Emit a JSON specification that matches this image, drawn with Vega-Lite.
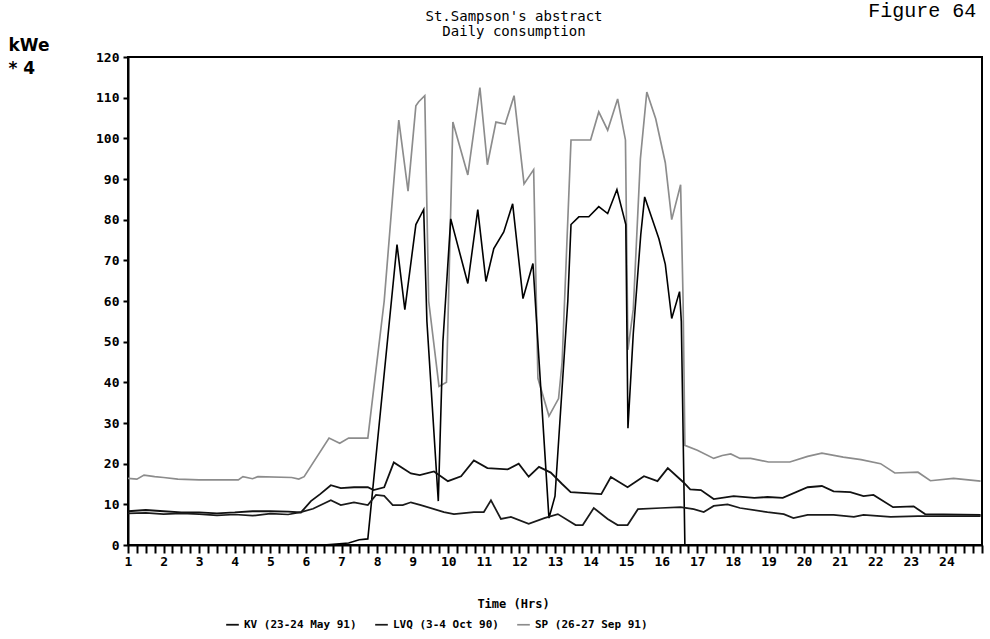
{
  "$schema": "https://vega.github.io/schema/vega-lite/v6.json",
  "width": 854,
  "height": 488,
  "autosize": {"type": "none"},
  "padding": {"left": 128, "top": 57, "right": 8, "bottom": 94},
  "background": "white",
  "config": {
    "view": {"stroke": "black", "strokeWidth": 2},
    "axis": {"domainColor": "black", "domainWidth": 2, "tickColor": "black", "tickWidth": 2, "labelColor": "black", "titleColor": "black", "grid": false},
    "title": {"color": "black"}
  },
  "title": {
    "text": ["St.Sampson's abstract", "Daily consumption"],
    "anchor": "middle",
    "frame": "group",
    "dx": -41,
    "offset": -38,
    "font": "DejaVu Sans Mono",
    "fontSize": 14,
    "fontWeight": "normal",
    "lineHeight": 15
  },
  "resolve": {"axis": {"x": "independent", "y": "independent"}},
  "data": {
    "values": [
      {"series": "SP (26-27 Sep 91)", "h": 1, "v": 16.4},
      {"series": "SP (26-27 Sep 91)", "h": 1.25, "v": 16.2},
      {"series": "SP (26-27 Sep 91)", "h": 1.45, "v": 17.2},
      {"series": "SP (26-27 Sep 91)", "h": 1.75, "v": 16.8},
      {"series": "SP (26-27 Sep 91)", "h": 2, "v": 16.6},
      {"series": "SP (26-27 Sep 91)", "h": 2.4, "v": 16.2},
      {"series": "SP (26-27 Sep 91)", "h": 3, "v": 16},
      {"series": "SP (26-27 Sep 91)", "h": 4.1, "v": 16},
      {"series": "SP (26-27 Sep 91)", "h": 4.23, "v": 16.8},
      {"series": "SP (26-27 Sep 91)", "h": 4.5, "v": 16.3},
      {"series": "SP (26-27 Sep 91)", "h": 4.65, "v": 16.8},
      {"series": "SP (26-27 Sep 91)", "h": 5.6, "v": 16.6},
      {"series": "SP (26-27 Sep 91)", "h": 5.8, "v": 16.2},
      {"series": "SP (26-27 Sep 91)", "h": 5.95, "v": 16.8},
      {"series": "SP (26-27 Sep 91)", "h": 6.65, "v": 26.3},
      {"series": "SP (26-27 Sep 91)", "h": 6.95, "v": 25},
      {"series": "SP (26-27 Sep 91)", "h": 7.2, "v": 26.3},
      {"series": "SP (26-27 Sep 91)", "h": 7.74, "v": 26.3},
      {"series": "SP (26-27 Sep 91)", "h": 8.2, "v": 60},
      {"series": "SP (26-27 Sep 91)", "h": 8.61, "v": 104.5},
      {"series": "SP (26-27 Sep 91)", "h": 8.87, "v": 87},
      {"series": "SP (26-27 Sep 91)", "h": 9.09, "v": 108},
      {"series": "SP (26-27 Sep 91)", "h": 9.17, "v": 109},
      {"series": "SP (26-27 Sep 91)", "h": 9.34, "v": 110.5},
      {"series": "SP (26-27 Sep 91)", "h": 9.45, "v": 60},
      {"series": "SP (26-27 Sep 91)", "h": 9.74, "v": 39},
      {"series": "SP (26-27 Sep 91)", "h": 9.95, "v": 40},
      {"series": "SP (26-27 Sep 91)", "h": 10.13, "v": 104},
      {"series": "SP (26-27 Sep 91)", "h": 10.55, "v": 91},
      {"series": "SP (26-27 Sep 91)", "h": 10.89, "v": 112.5},
      {"series": "SP (26-27 Sep 91)", "h": 11.1, "v": 93.5},
      {"series": "SP (26-27 Sep 91)", "h": 11.34, "v": 104},
      {"series": "SP (26-27 Sep 91)", "h": 11.6, "v": 103.5},
      {"series": "SP (26-27 Sep 91)", "h": 11.85, "v": 110.5},
      {"series": "SP (26-27 Sep 91)", "h": 12.13, "v": 88.8},
      {"series": "SP (26-27 Sep 91)", "h": 12.4, "v": 92.3},
      {"series": "SP (26-27 Sep 91)", "h": 12.52, "v": 41},
      {"series": "SP (26-27 Sep 91)", "h": 12.83, "v": 31.7},
      {"series": "SP (26-27 Sep 91)", "h": 13.1, "v": 36},
      {"series": "SP (26-27 Sep 91)", "h": 13.2, "v": 45},
      {"series": "SP (26-27 Sep 91)", "h": 13.45, "v": 99.6},
      {"series": "SP (26-27 Sep 91)", "h": 14, "v": 99.6},
      {"series": "SP (26-27 Sep 91)", "h": 14.23, "v": 106.5},
      {"series": "SP (26-27 Sep 91)", "h": 14.48, "v": 102},
      {"series": "SP (26-27 Sep 91)", "h": 14.76, "v": 109.7},
      {"series": "SP (26-27 Sep 91)", "h": 14.98, "v": 99.6},
      {"series": "SP (26-27 Sep 91)", "h": 15.05, "v": 48},
      {"series": "SP (26-27 Sep 91)", "h": 15.2, "v": 58},
      {"series": "SP (26-27 Sep 91)", "h": 15.4, "v": 95},
      {"series": "SP (26-27 Sep 91)", "h": 15.58, "v": 111.4},
      {"series": "SP (26-27 Sep 91)", "h": 15.83, "v": 104.8},
      {"series": "SP (26-27 Sep 91)", "h": 16.1, "v": 94},
      {"series": "SP (26-27 Sep 91)", "h": 16.28, "v": 80},
      {"series": "SP (26-27 Sep 91)", "h": 16.53, "v": 88.6},
      {"series": "SP (26-27 Sep 91)", "h": 16.6, "v": 60},
      {"series": "SP (26-27 Sep 91)", "h": 16.65, "v": 24.5},
      {"series": "SP (26-27 Sep 91)", "h": 17, "v": 23.3},
      {"series": "SP (26-27 Sep 91)", "h": 17.46, "v": 21.3},
      {"series": "SP (26-27 Sep 91)", "h": 17.7, "v": 22},
      {"series": "SP (26-27 Sep 91)", "h": 17.94, "v": 22.4},
      {"series": "SP (26-27 Sep 91)", "h": 18.2, "v": 21.3},
      {"series": "SP (26-27 Sep 91)", "h": 18.5, "v": 21.3},
      {"series": "SP (26-27 Sep 91)", "h": 19, "v": 20.4},
      {"series": "SP (26-27 Sep 91)", "h": 19.6, "v": 20.4},
      {"series": "SP (26-27 Sep 91)", "h": 20.1, "v": 21.8},
      {"series": "SP (26-27 Sep 91)", "h": 20.5, "v": 22.6},
      {"series": "SP (26-27 Sep 91)", "h": 21.1, "v": 21.6},
      {"series": "SP (26-27 Sep 91)", "h": 21.6, "v": 21},
      {"series": "SP (26-27 Sep 91)", "h": 22.15, "v": 20},
      {"series": "SP (26-27 Sep 91)", "h": 22.55, "v": 17.7},
      {"series": "SP (26-27 Sep 91)", "h": 23.2, "v": 17.9},
      {"series": "SP (26-27 Sep 91)", "h": 23.55, "v": 15.8},
      {"series": "SP (26-27 Sep 91)", "h": 24.2, "v": 16.4},
      {"series": "SP (26-27 Sep 91)", "h": 24.96, "v": 15.7},

      {"series": "Space heating", "h": 1, "v": 0},
      {"series": "Space heating", "h": 6.5, "v": 0},
      {"series": "Space heating", "h": 7.2, "v": 0.5},
      {"series": "Space heating", "h": 7.5, "v": 1.3},
      {"series": "Space heating", "h": 7.74, "v": 1.5},
      {"series": "Space heating", "h": 8.56, "v": 73.9},
      {"series": "Space heating", "h": 8.78, "v": 57.9},
      {"series": "Space heating", "h": 9.09, "v": 78.8},
      {"series": "Space heating", "h": 9.31, "v": 82.5},
      {"series": "Space heating", "h": 9.4, "v": 55},
      {"series": "Space heating", "h": 9.72, "v": 10.8},
      {"series": "Space heating", "h": 9.85, "v": 50},
      {"series": "Space heating", "h": 10.07, "v": 80.2},
      {"series": "Space heating", "h": 10.55, "v": 64.3},
      {"series": "Space heating", "h": 10.83, "v": 82.5},
      {"series": "Space heating", "h": 11.06, "v": 64.8},
      {"series": "Space heating", "h": 11.28, "v": 72.9},
      {"series": "Space heating", "h": 11.56, "v": 77},
      {"series": "Space heating", "h": 11.81, "v": 83.9},
      {"series": "Space heating", "h": 12.1, "v": 60.6},
      {"series": "Space heating", "h": 12.38, "v": 69.2},
      {"series": "Space heating", "h": 12.83, "v": 6.6},
      {"series": "Space heating", "h": 13, "v": 12},
      {"series": "Space heating", "h": 13.36, "v": 60},
      {"series": "Space heating", "h": 13.45, "v": 78.8},
      {"series": "Space heating", "h": 13.67, "v": 80.7},
      {"series": "Space heating", "h": 13.95, "v": 80.7},
      {"series": "Space heating", "h": 14.23, "v": 83.2},
      {"series": "Space heating", "h": 14.48, "v": 81.5},
      {"series": "Space heating", "h": 14.74, "v": 87.4},
      {"series": "Space heating", "h": 14.99, "v": 78.8},
      {"series": "Space heating", "h": 15.05, "v": 28.7},
      {"series": "Space heating", "h": 15.2, "v": 52},
      {"series": "Space heating", "h": 15.41, "v": 76.3},
      {"series": "Space heating", "h": 15.52, "v": 85.6},
      {"series": "Space heating", "h": 15.92, "v": 75.3},
      {"series": "Space heating", "h": 16.1, "v": 69},
      {"series": "Space heating", "h": 16.28, "v": 55.7},
      {"series": "Space heating", "h": 16.5, "v": 62.3},
      {"series": "Space heating", "h": 16.55, "v": 55},
      {"series": "Space heating", "h": 16.65, "v": 0},
      {"series": "Space heating", "h": 25, "v": 0},

      {"series": "KV (23-24 May 91)", "h": 1, "v": 8.3},
      {"series": "KV (23-24 May 91)", "h": 1.5, "v": 8.6},
      {"series": "KV (23-24 May 91)", "h": 2, "v": 8.3},
      {"series": "KV (23-24 May 91)", "h": 2.5, "v": 8},
      {"series": "KV (23-24 May 91)", "h": 3, "v": 8},
      {"series": "KV (23-24 May 91)", "h": 3.5, "v": 7.8},
      {"series": "KV (23-24 May 91)", "h": 4, "v": 8},
      {"series": "KV (23-24 May 91)", "h": 4.5, "v": 8.3},
      {"series": "KV (23-24 May 91)", "h": 5, "v": 8.3},
      {"series": "KV (23-24 May 91)", "h": 5.5, "v": 8.2},
      {"series": "KV (23-24 May 91)", "h": 5.86, "v": 8},
      {"series": "KV (23-24 May 91)", "h": 6.14, "v": 10.8},
      {"series": "KV (23-24 May 91)", "h": 6.4, "v": 12.5},
      {"series": "KV (23-24 May 91)", "h": 6.7, "v": 14.7},
      {"series": "KV (23-24 May 91)", "h": 6.98, "v": 14},
      {"series": "KV (23-24 May 91)", "h": 7.35, "v": 14.2},
      {"series": "KV (23-24 May 91)", "h": 7.74, "v": 14.2},
      {"series": "KV (23-24 May 91)", "h": 7.9, "v": 13.5},
      {"series": "KV (23-24 May 91)", "h": 8.2, "v": 14.2},
      {"series": "KV (23-24 May 91)", "h": 8.47, "v": 20.3},
      {"series": "KV (23-24 May 91)", "h": 8.95, "v": 17.6},
      {"series": "KV (23-24 May 91)", "h": 9.2, "v": 17.2},
      {"series": "KV (23-24 May 91)", "h": 9.6, "v": 18.1},
      {"series": "KV (23-24 May 91)", "h": 9.99, "v": 15.7},
      {"series": "KV (23-24 May 91)", "h": 10.36, "v": 16.9},
      {"series": "KV (23-24 May 91)", "h": 10.72, "v": 20.8},
      {"series": "KV (23-24 May 91)", "h": 11.1, "v": 18.9},
      {"series": "KV (23-24 May 91)", "h": 11.67, "v": 18.6},
      {"series": "KV (23-24 May 91)", "h": 11.98, "v": 20},
      {"series": "KV (23-24 May 91)", "h": 12.26, "v": 16.8},
      {"series": "KV (23-24 May 91)", "h": 12.55, "v": 19.2},
      {"series": "KV (23-24 May 91)", "h": 12.88, "v": 17.8},
      {"series": "KV (23-24 May 91)", "h": 13.2, "v": 15},
      {"series": "KV (23-24 May 91)", "h": 13.44, "v": 13},
      {"series": "KV (23-24 May 91)", "h": 14.3, "v": 12.5},
      {"series": "KV (23-24 May 91)", "h": 14.57, "v": 16.7},
      {"series": "KV (23-24 May 91)", "h": 15.04, "v": 14.2},
      {"series": "KV (23-24 May 91)", "h": 15.5, "v": 16.9},
      {"series": "KV (23-24 May 91)", "h": 15.88, "v": 15.7},
      {"series": "KV (23-24 May 91)", "h": 16.17, "v": 18.9},
      {"series": "KV (23-24 May 91)", "h": 16.6, "v": 15.5},
      {"series": "KV (23-24 May 91)", "h": 16.8, "v": 13.7},
      {"series": "KV (23-24 May 91)", "h": 17.1, "v": 13.5},
      {"series": "KV (23-24 May 91)", "h": 17.46, "v": 11.3},
      {"series": "KV (23-24 May 91)", "h": 18.02, "v": 12},
      {"series": "KV (23-24 May 91)", "h": 18.6, "v": 11.6},
      {"series": "KV (23-24 May 91)", "h": 18.97, "v": 11.8},
      {"series": "KV (23-24 May 91)", "h": 19.4, "v": 11.6},
      {"series": "KV (23-24 May 91)", "h": 20.1, "v": 14.2},
      {"series": "KV (23-24 May 91)", "h": 20.5, "v": 14.5},
      {"series": "KV (23-24 May 91)", "h": 20.83, "v": 13.2},
      {"series": "KV (23-24 May 91)", "h": 21.3, "v": 13},
      {"series": "KV (23-24 May 91)", "h": 21.67, "v": 12},
      {"series": "KV (23-24 May 91)", "h": 21.95, "v": 12.3},
      {"series": "KV (23-24 May 91)", "h": 22.5, "v": 9.3},
      {"series": "KV (23-24 May 91)", "h": 23.08, "v": 9.5},
      {"series": "KV (23-24 May 91)", "h": 23.4, "v": 7.6},
      {"series": "KV (23-24 May 91)", "h": 24.96, "v": 7.4},

      {"series": "LVQ (3-4 Oct 90)", "h": 1, "v": 7.8},
      {"series": "LVQ (3-4 Oct 90)", "h": 1.5, "v": 7.9},
      {"series": "LVQ (3-4 Oct 90)", "h": 2, "v": 7.6},
      {"series": "LVQ (3-4 Oct 90)", "h": 2.5, "v": 7.8},
      {"series": "LVQ (3-4 Oct 90)", "h": 3, "v": 7.6},
      {"series": "LVQ (3-4 Oct 90)", "h": 3.5, "v": 7.3},
      {"series": "LVQ (3-4 Oct 90)", "h": 4, "v": 7.5},
      {"series": "LVQ (3-4 Oct 90)", "h": 4.5, "v": 7.2},
      {"series": "LVQ (3-4 Oct 90)", "h": 5, "v": 7.7},
      {"series": "LVQ (3-4 Oct 90)", "h": 5.5, "v": 7.5},
      {"series": "LVQ (3-4 Oct 90)", "h": 5.86, "v": 8.1},
      {"series": "LVQ (3-4 Oct 90)", "h": 6.2, "v": 8.9},
      {"series": "LVQ (3-4 Oct 90)", "h": 6.7, "v": 11},
      {"series": "LVQ (3-4 Oct 90)", "h": 6.98, "v": 9.8},
      {"series": "LVQ (3-4 Oct 90)", "h": 7.35, "v": 10.5},
      {"series": "LVQ (3-4 Oct 90)", "h": 7.74, "v": 9.8},
      {"series": "LVQ (3-4 Oct 90)", "h": 7.97, "v": 12.3},
      {"series": "LVQ (3-4 Oct 90)", "h": 8.2, "v": 12.1},
      {"series": "LVQ (3-4 Oct 90)", "h": 8.44, "v": 9.8},
      {"series": "LVQ (3-4 Oct 90)", "h": 8.72, "v": 9.8},
      {"series": "LVQ (3-4 Oct 90)", "h": 8.95, "v": 10.5},
      {"series": "LVQ (3-4 Oct 90)", "h": 9.23, "v": 9.8},
      {"series": "LVQ (3-4 Oct 90)", "h": 9.88, "v": 8.1},
      {"series": "LVQ (3-4 Oct 90)", "h": 10.16, "v": 7.6},
      {"series": "LVQ (3-4 Oct 90)", "h": 10.72, "v": 8.1},
      {"series": "LVQ (3-4 Oct 90)", "h": 11, "v": 8.1},
      {"series": "LVQ (3-4 Oct 90)", "h": 11.2, "v": 11},
      {"series": "LVQ (3-4 Oct 90)", "h": 11.48, "v": 6.4},
      {"series": "LVQ (3-4 Oct 90)", "h": 11.76, "v": 6.9},
      {"series": "LVQ (3-4 Oct 90)", "h": 12.26, "v": 5.2},
      {"series": "LVQ (3-4 Oct 90)", "h": 12.7, "v": 6.6},
      {"series": "LVQ (3-4 Oct 90)", "h": 13.08, "v": 7.6},
      {"series": "LVQ (3-4 Oct 90)", "h": 13.58, "v": 4.9},
      {"series": "LVQ (3-4 Oct 90)", "h": 13.78, "v": 4.9},
      {"series": "LVQ (3-4 Oct 90)", "h": 14.09, "v": 9.1},
      {"series": "LVQ (3-4 Oct 90)", "h": 14.48, "v": 6.4},
      {"series": "LVQ (3-4 Oct 90)", "h": 14.76, "v": 4.9},
      {"series": "LVQ (3-4 Oct 90)", "h": 15.04, "v": 4.9},
      {"series": "LVQ (3-4 Oct 90)", "h": 15.33, "v": 8.8},
      {"series": "LVQ (3-4 Oct 90)", "h": 15.97, "v": 9.1},
      {"series": "LVQ (3-4 Oct 90)", "h": 16.53, "v": 9.3},
      {"series": "LVQ (3-4 Oct 90)", "h": 16.9, "v": 8.8},
      {"series": "LVQ (3-4 Oct 90)", "h": 17.18, "v": 8.1},
      {"series": "LVQ (3-4 Oct 90)", "h": 17.46, "v": 9.6},
      {"series": "LVQ (3-4 Oct 90)", "h": 17.85, "v": 10},
      {"series": "LVQ (3-4 Oct 90)", "h": 18.2, "v": 9.1},
      {"series": "LVQ (3-4 Oct 90)", "h": 18.97, "v": 8.1},
      {"series": "LVQ (3-4 Oct 90)", "h": 19.43, "v": 7.6},
      {"series": "LVQ (3-4 Oct 90)", "h": 19.7, "v": 6.6},
      {"series": "LVQ (3-4 Oct 90)", "h": 20.1, "v": 7.4},
      {"series": "LVQ (3-4 Oct 90)", "h": 20.83, "v": 7.4},
      {"series": "LVQ (3-4 Oct 90)", "h": 21.4, "v": 6.9},
      {"series": "LVQ (3-4 Oct 90)", "h": 21.67, "v": 7.4},
      {"series": "LVQ (3-4 Oct 90)", "h": 22.43, "v": 6.9},
      {"series": "LVQ (3-4 Oct 90)", "h": 23.2, "v": 7.1},
      {"series": "LVQ (3-4 Oct 90)", "h": 24.96, "v": 7.1}
    ]
  },
  "layer": [
    {
      "mark": {"type": "line", "interpolate": "linear", "clip": true},
      "encoding": {
        "x": {
          "field": "h",
          "type": "quantitative",
          "scale": {"domain": [1, 25], "nice": false, "zero": false},
          "axis": {
            "values": [1,1.25,1.5,1.75,2,2.25,2.5,2.75,3,3.25,3.5,3.75,4,4.25,4.5,4.75,5,5.25,5.5,5.75,6,6.25,6.5,6.75,7,7.25,7.5,7.75,8,8.25,8.5,8.75,9,9.25,9.5,9.75,10,10.25,10.5,10.75,11,11.25,11.5,11.75,12,12.25,12.5,12.75,13,13.25,13.5,13.75,14,14.25,14.5,14.75,15,15.25,15.5,15.75,16,16.25,16.5,16.75,17,17.25,17.5,17.75,18,18.25,18.5,18.75,19,19.25,19.5,19.75,20,20.25,20.5,20.75,21,21.25,21.5,21.75,22,22.25,22.5,22.75,23,23.25,23.5,23.75,24,24.25,24.5,24.75,25],
            "labelExpr": "(datum.value % 1 == 0 && datum.value <= 24) ? format(datum.value, 'd') : ''",
            "labelOverlap": false,
            "labelFlush": false,
            "labelFont": "DejaVu Sans Mono",
            "labelFontSize": 13,
            "labelFontWeight": "bold",
            "labelPadding": 2,
            "tickSize": 8,
            "title": "Time (Hrs)",
            "titleFont": "DejaVu Sans Mono",
            "titleFontSize": 12,
            "titleFontWeight": "bold",
            "titleX": 385,
            "titleY": 58,
            "titleBaseline": "middle"
          }
        },
        "y": {
          "field": "v",
          "type": "quantitative",
          "scale": {"domain": [0, 120], "nice": false},
          "axis": {
            "values": [0,10,20,30,40,50,60,70,80,90,100,110,120],
            "labelFont": "DejaVu Sans Mono",
            "labelFontSize": 13,
            "labelFontWeight": "bold",
            "labelPadding": 4,
            "tickSize": 5,
            "title": ["kWe", "* 4"],
            "titleAngle": 0,
            "titleAlign": "left",
            "titleBaseline": "top",
            "titleX": -120,
            "titleY": -20,
            "titleFont": "DejaVu Sans",
            "titleFontSize": 17,
            "titleFontWeight": "bold",
            "titleLineHeight": 23
          }
        },
        "detail": {"field": "series"},
        "color": {
          "field": "series",
          "type": "nominal",
          "scale": {
            "domain": ["KV (23-24 May 91)", "LVQ (3-4 Oct 90)", "SP (26-27 Sep 91)", "Space heating"],
            "range": ["#111111", "#1a1a1a", "#8c8c8c", "#000000"]
          },
          "legend": {
            "values": ["KV (23-24 May 91)", "LVQ (3-4 Oct 90)", "SP (26-27 Sep 91)"],
            "orient": "none",
            "legendX": 97,
            "legendY": 560,
            "direction": "horizontal",
            "title": null,
            "symbolType": "stroke",
            "symbolSize": 160,
            "symbolStrokeWidth": 1.5,
            "labelFont": "DejaVu Sans Mono",
            "labelFontSize": 11,
            "labelFontWeight": "bold",
            "labelColor": "black",
            "labelOffset": 4,
            "columnPadding": 14,
            "labelLimit": 300
          }
        },
        "strokeWidth": {
          "field": "series",
          "type": "nominal",
          "scale": {
            "domain": ["KV (23-24 May 91)", "LVQ (3-4 Oct 90)", "SP (26-27 Sep 91)", "Space heating"],
            "range": [1.8, 1.6, 1.2, 2.2]
          },
          "legend": null
        }
      }
    },
    {
      "data": {"values": [{}]},
      "mark": {"type": "text", "font": "Liberation Mono", "fontSize": 20, "align": "left", "baseline": "alphabetic", "color": "black", "clip": false},
      "encoding": {
        "x": {"datum": 21.8, "type": "quantitative", "axis": null},
        "y": {"datum": 129.8, "type": "quantitative", "axis": null},
        "text": {"value": "Figure 64"}
      }
    }
  ]
}
